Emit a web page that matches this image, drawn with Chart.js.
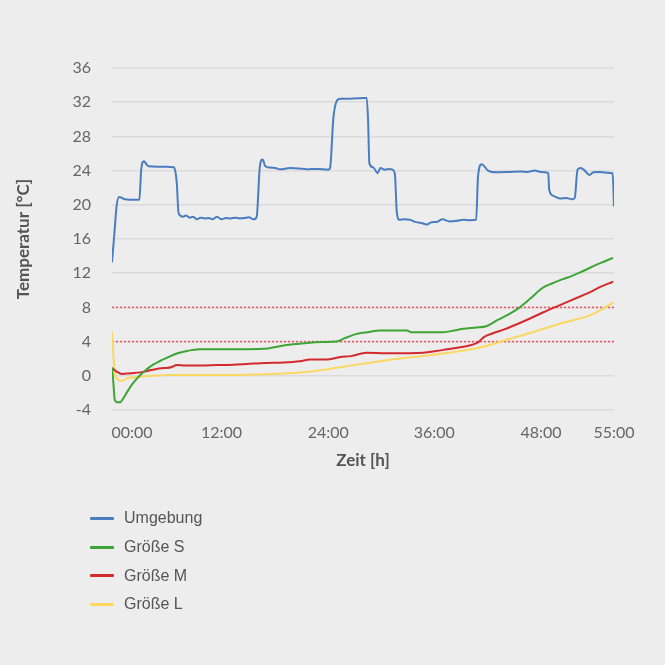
<!DOCTYPE html>
<html>
<head>
<meta charset="utf-8">
<script src="https://cdn.jsdelivr.net/npm/chart.js@4.4.1/dist/chart.umd.min.js"></script>
<style>
  html, body { margin: 0; padding: 0; background: #eeeded; }
  #wrap { position: relative; width: 665px; height: 665px; }
  canvas { position: absolute; left: 0; top: 0; }
  #legend { position: absolute; left: 90px; top: 504px; font-family: "Liberation Sans", Arial, sans-serif; font-size: 16px; color: #555; }
  .item { height: 28.7px; display: flex; align-items: center; }
  .sw { width: 24px; height: 3px; border-radius: 1px; margin-right: 10px; }
</style>
</head>
<body>
<div id="wrap">
  <canvas id="c" width="665" height="665"></canvas>
  <div id="legend"></div>
</div>
<script>
// ---- data (hours / °C) ----
const seriesNames = ["Umgebung", "Größe S", "Größe M", "Größe L"];

const umgebungHours = [0,0.25,0.5,0.77,1.0,1.4,2.0,2.6,3.0,3.2,3.5,3.8,4.0,5.0,6.0,6.8,7.0,7.1,7.3,7.8,8.1,8.5,8.9,9.3,9.7,10.2,10.6,11.0,11.5,12.0,12.5,13.0,13.5,14.0,14.5,15.0,15.5,15.85,16.2,16.5,16.8,17.3,17.9,18.4,19.5,20.5,21.3,22.5,23.7,23.9,24.25,24.6,25.0,26.0,27.0,27.5,27.9,28.05,28.2,28.65,29.1,29.4,29.9,30.4,30.75,31.0,31.2,31.5,32.0,32.65,33.2,33.8,34.5,35.0,35.6,36.2,37.0,37.6,38.5,39.2,39.9,40.1,40.5,41.2,42.15,43.5,44.9,45.5,46.3,47.0,47.8,47.9,48.35,49.1,49.8,50.4,50.7,51.0,51.35,51.8,52.3,52.75,53.3,53.8,54.3,54.85,55.0];
const umgebungTemp = [13.25,16.5,19.8,20.9,20.85,20.65,20.6,20.6,20.6,24.1,25.1,24.7,24.5,24.45,24.45,24.4,23.5,22.5,19.0,18.6,18.75,18.5,18.6,18.3,18.5,18.4,18.45,18.3,18.6,18.3,18.45,18.4,18.5,18.4,18.45,18.55,18.3,18.6,24.5,25.3,24.5,24.35,24.3,24.15,24.3,24.25,24.15,24.2,24.1,24.35,30.1,32.1,32.4,32.4,32.45,32.5,32.5,30.1,24.85,24.35,23.7,24.3,24.1,24.2,24.1,23.5,19.2,18.25,18.3,18.25,18.0,17.9,17.7,17.95,18.0,18.3,18.05,18.1,18.25,18.2,18.25,23.3,24.75,24.0,23.8,23.85,23.9,23.85,24.0,23.85,23.7,21.75,21.05,20.75,20.8,20.65,20.8,24.1,24.3,24.0,23.5,23.8,23.85,23.8,23.75,23.7,19.8];

const sHours = [0,0.15,0.3,0.6,0.9,1.2,1.6,2.2,3.1,3.8,4.5,5.2,6.0,7.1,8.2,9.6,12,14,16.6,19.1,21,23.0,24.6,25.5,26.8,28,29.4,31,32.3,32.8,34.5,36.3,37.5,38.5,39.9,41,42.2,43.3,44.4,45.8,47.2,48.2,49.4,50.2,51.5,53.1,54.0,54.9];
const sTemp = [1.0,-0.8,-2.8,-3.1,-3.1,-2.7,-2.0,-1.0,0.1,0.75,1.3,1.7,2.1,2.6,2.9,3.1,3.1,3.1,3.15,3.6,3.8,3.95,4.0,4.4,4.9,5.1,5.3,5.3,5.3,5.1,5.1,5.1,5.3,5.5,5.65,5.8,6.5,7.1,7.8,9.0,10.3,10.8,11.3,11.6,12.2,13.0,13.4,13.8];

const mHours = [0,0.5,1.1,2.0,3.1,4.0,4.9,5.7,6.5,7.1,8.0,9.6,11.5,13.3,15,16.9,18.8,20.6,21.7,23.5,25.0,26.2,27.9,30,32.6,34.1,35.5,36.7,38.5,40.1,40.7,41.8,42.9,44.3,45.8,47.2,48.7,50.9,52.2,53.5,54.9];
const mTemp = [0.9,0.5,0.2,0.3,0.4,0.6,0.8,0.9,1.0,1.25,1.2,1.2,1.25,1.3,1.4,1.5,1.55,1.7,1.9,1.9,2.2,2.3,2.7,2.65,2.65,2.7,2.9,3.1,3.4,3.9,4.5,5.0,5.4,6.0,6.7,7.4,8.1,9.1,9.7,10.4,11.0];

const lHours = [0,0.15,0.3,0.6,0.9,1.3,1.6,2.2,3.1,4.5,6.0,9,13.3,16.9,20.6,23.9,25.5,27.5,31.2,34.8,38.5,40.7,42.9,45.8,49.4,52.4,55];
const lTemp = [5.2,2.5,0.3,-0.4,-0.6,-0.5,-0.3,-0.2,-0.1,0.0,0.1,0.1,0.1,0.2,0.4,0.8,1.1,1.4,2.0,2.4,2.95,3.4,4.1,5.0,6.2,7.1,8.6];

const thresholds = [8, 4];
const xTickLabels = ["00:00", "12:00", "24:00", "36:00", "48:00", "55:00"];
const xTickAt = [2.2, 12.0, 23.7, 35.3, 47.0, 55.0];
const yTickMin = -4, yTickMax = 36, yTickStep = 4;

// ---- build ----
const colors = ["#4a7dc0", "#3da535", "#d22a2d", "#fbd862"];
const pts = (h, v) => h.map((x, i) => ({x, y: v[i]}));
const datasets = [
  {label: seriesNames[0], data: pts(umgebungHours, umgebungTemp), borderColor: colors[0], borderWidth: 2, cubicInterpolationMode: 'monotone'},
  {label: seriesNames[1], data: pts(sHours, sTemp), borderColor: colors[1], borderWidth: 2, cubicInterpolationMode: 'monotone'},
  {label: seriesNames[2], data: pts(mHours, mTemp), borderColor: colors[2], borderWidth: 2, cubicInterpolationMode: 'monotone'},
  {label: seriesNames[3], data: pts(lHours, lTemp), borderColor: colors[3], borderWidth: 2, cubicInterpolationMode: 'monotone'}
].map(d => Object.assign(d, {pointRadius: 0, fill: false}));
thresholds.forEach(t => datasets.push({
  label: 'thr', data: [{x: 0, y: t}, {x: 55, y: t}], borderColor: '#ee5560',
  borderWidth: 1.6, borderDash: [2, 2], borderCapStyle: 'butt', pointRadius: 0, fill: false, order: 10
}));

new Chart(document.getElementById('c'), {
  type: 'line',
  data: {datasets},
  options: {
    responsive: false,
    animation: false,
    layout: {padding: {left: 11, right: 51, top: 68, bottom: 191}},
    plugins: {legend: {display: false}, tooltip: {enabled: false}},
    scales: {
      x: {
        type: 'linear', min: 0, max: 55,
        grid: {display: false, drawTicks: false},
        border: {display: false},
        afterBuildTicks: ax => { ax.ticks = xTickAt.map(v => ({value: v})); },
        afterFit: s => { s.height = 64; },
        ticks: {
          autoSkip: false, maxRotation: 0, padding: 13, color: '#666',
          font: {family: 'Lato', size: 16},
          callback: (v, i) => xTickLabels[i]
        },
        title: {display: true, text: 'Zeit [h]', color: '#555', font: {family: 'Lato', size: 17, weight: 'bold'}, padding: {top: 4, bottom: 3}}
      },
      y: {
        min: yTickMin, max: yTickMax,
        grid: {color: '#dcdbdb', lineWidth: 1.5, drawTicks: false},
        border: {display: false},
        afterFit: s => { s.width = 101; },
        ticks: {stepSize: yTickStep, padding: 21, color: '#666', font: {family: 'Lato', size: 16}},
        title: {display: true, text: 'Temperatur [°C]', color: '#555', font: {family: 'Lato', size: 17, weight: 'bold'}, padding: {top: 2, bottom: 4}}
      }
    }
  }
});

// HTML legend built from series
const lg = document.getElementById('legend');
seriesNames.forEach((n, i) => {
  const row = document.createElement('div'); row.className = 'item';
  const sw = document.createElement('span'); sw.className = 'sw'; sw.style.background = colors[i];
  const tx = document.createElement('span'); tx.textContent = n;
  row.appendChild(sw); row.appendChild(tx); lg.appendChild(row);
});
</script>
</body>
</html>
